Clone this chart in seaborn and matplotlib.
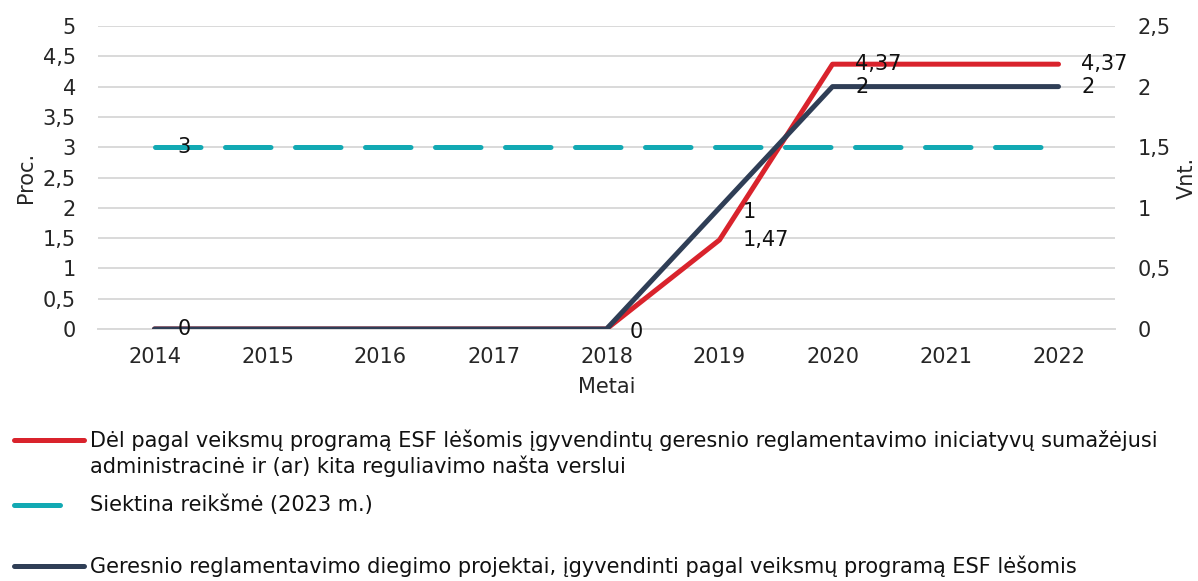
import matplotlib
matplotlib.use("Agg")
import matplotlib.pyplot as plt
import pandas as pd
import seaborn as sns
from matplotlib.lines import Line2D
from matplotlib.ticker import FixedLocator, FuncFormatter, MultipleLocator

# data
years = [2014, 2015, 2016, 2017, 2018, 2019, 2020, 2021, 2022]
burden_pct = [0, 0, 0, 0, 0, 1.47, 4.37, 4.37, 4.37]
target_pct = [3, 3, 3, 3, 3, 3, 3, 3, 3]
projects = [0, 0, 0, 0, 0, 1, 2, 2, 2]

legend_burden = [
    "Dėl pagal veiksmų programą ESF lėšomis įgyvendintų geresnio reglamentavimo iniciatyvų sumažėjusi",
    "administracinė ir (ar) kita reguliavimo našta verslui",
]
legend_target = "Siektina reikšmė (2023 m.)"
legend_projects = "Geresnio reglamentavimo diegimo projektai, įgyvendinti pagal veiksmų programą ESF lėšomis"

RED = "#D9232C"
TEAL = "#12A9B3"
NAVY = "#2F3E56"
GRID = "#D9D9D9"
LW = 3.6
FS = 15

W, H = 1198, 581

sns.set_style("white")
plt.rcParams["font.family"] = ["DejaVu Sans"]
plt.rcParams["text.color"] = "#111111"

df = pd.DataFrame({
    "year": years,
    "burden": burden_pct,
    "target": target_pct,
    "projects": projects,
})


def fmt(v):
    return f"{v:g}".replace(".", ",")


fig = plt.figure(figsize=(W / 100, H / 100), dpi=100)
ax = fig.add_axes([98 / W, 1 - 329 / H, (1115 - 98) / W, (329 - 26) / H])
ax2 = ax.twinx()

sns.lineplot(data=df, x="year", y="burden", ax=ax, color=RED, linewidth=LW,
             solid_capstyle="round", solid_joinstyle="round", zorder=3)
sns.lineplot(data=df, x="year", y="target", ax=ax, color=TEAL, linewidth=LW,
             zorder=2)
teal_line = ax.lines[-1]
teal_line.set_linestyle((0, (9.1, 4.9)))
teal_line.set_dash_capstyle("round")
sns.lineplot(data=df, x="year", y="projects", ax=ax2, color=NAVY, linewidth=LW,
             solid_capstyle="round", solid_joinstyle="round", zorder=3)

# axes ranges and ticks
ax.set_xlim(years[0] - 0.5, years[-1] + 0.5)
ax.set_ylim(0, 5)
ax2.set_ylim(0, 2.5)
ax.yaxis.set_major_locator(MultipleLocator(0.5))
ax2.yaxis.set_major_locator(MultipleLocator(0.5))
ax.yaxis.set_major_formatter(FuncFormatter(lambda v, p: fmt(v)))
ax2.yaxis.set_major_formatter(FuncFormatter(lambda v, p: fmt(v)))
ax.set_xticks(years)
ax.set_xticklabels([str(y) for y in years])
ax.xaxis.set_minor_locator(FixedLocator([y - 0.5 for y in years] + [years[-1] + 0.5]))

ax.grid(axis="y", color=GRID, linewidth=1.4, zorder=0)
ax.set_axisbelow(True)
ax2.grid(False)

for a in (ax, ax2):
    for s in a.spines.values():
        s.set_visible(False)
ax.spines["bottom"].set_visible(True)
ax.spines["bottom"].set_color(GRID)
ax.spines["bottom"].set_linewidth(1.4)

ax.tick_params(axis="x", which="major", length=0, pad=13, labelsize=FS)
ax.tick_params(axis="x", which="minor", length=6, width=1.4, color=GRID)
ax.tick_params(axis="y", length=0, pad=16, labelsize=FS)
ax2.tick_params(axis="y", length=0, pad=16, labelsize=FS)

ax.set_xlabel("Metai", fontsize=FS, labelpad=7)
ax.set_ylabel("Proc.", fontsize=FS, labelpad=5)
ax2.set_ylabel("Vnt.", fontsize=FS, labelpad=5)

# data labels
off = (16.5, 0)
lab = dict(textcoords="offset points", xytext=off, va="center", ha="left",
           fontsize=FS, zorder=5)
ax.annotate(fmt(target_pct[0]), (years[0], target_pct[0]), **lab)
ax2.annotate(fmt(projects[0]), (years[0], projects[0]), **lab)
ax.annotate(fmt(burden_pct[4]), (years[4], burden_pct[4]),
            textcoords="offset points", xytext=(16.5, -2), va="center",
            ha="left", fontsize=FS, zorder=5)
ax.annotate(fmt(burden_pct[5]), (years[5], burden_pct[5]), **lab)
ax2.annotate(fmt(projects[5]), (years[5], projects[5]),
             textcoords="offset points", xytext=(16.5, -3), va="center",
             ha="left", fontsize=FS, zorder=5)
for i in (6, 8):
    ax.annotate(fmt(burden_pct[i]), (years[i], burden_pct[i]), **lab)
    ax2.annotate(fmt(projects[i]), (years[i], projects[i]), **lab)


# legend laid out like the original, handle on the first text line
def legend_row(y_px, color, x_end):
    y = 1 - y_px / H
    ln = Line2D([14 / W, x_end / W], [y, y], transform=fig.transFigure,
                color=color, linewidth=LW, solid_capstyle="round")
    fig.add_artist(ln)
    return y


y = legend_row(440, RED, 84)
fig.text(90 / W, y, legend_burden[0], va="center", fontsize=FS)
fig.text(90 / W, 1 - 466 / H, legend_burden[1], va="center", fontsize=FS)
y = legend_row(505, TEAL, 60)
fig.text(90 / W, y, legend_target, va="center", fontsize=FS)
y = legend_row(566, NAVY, 84)
fig.text(90 / W, y, legend_projects, va="center", fontsize=FS)

fig.savefig("out.png", dpi=100)
